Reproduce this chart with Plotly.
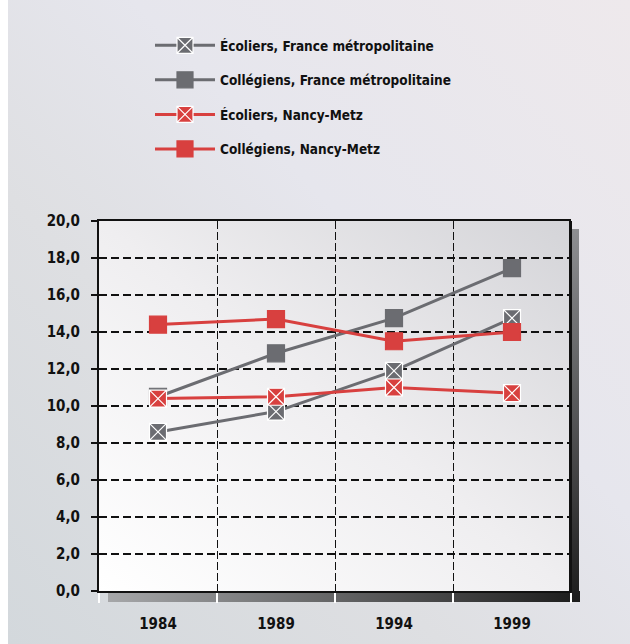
import base64
import plotly.graph_objects as go

years = ["1984", "1989", "1994", "1999"]
ecoliers_france = [8.6, 9.7, 11.9, 14.75]
collegiens_france = [10.5, 12.85, 14.75, 17.45]
ecoliers_nm = [10.4, 10.5, 11.0, 10.7]
collegiens_nm = [14.4, 14.7, 13.5, 14.0]

names = [
    "Écoliers, France métropolitaine",
    "Collégiens, France métropolitaine",
    "Écoliers, Nancy-Metz",
    "Collégiens, Nancy-Metz",
]

GRAY = "#6b6c71"
RED = "#d8403f"
FONT = "Liberation Sans Narrow, Arial Narrow, DejaVu Sans Condensed, sans-serif"

W, H = 630, 644
L, R, T, B = 99, 571, 221, 591

svg = f"""<svg xmlns='http://www.w3.org/2000/svg' width='{W}' height='{H}' viewBox='0 0 {W} {H}' preserveAspectRatio='none'>
<defs>
<linearGradient id='bg' x1='0' y1='1' x2='1' y2='0'>
<stop offset='0' stop-color='#d3d8dc'/><stop offset='0.35' stop-color='#dedfe2'/>
<stop offset='0.6' stop-color='#e6e6ed'/><stop offset='1' stop-color='#eee9ec'/></linearGradient>
<linearGradient id='pb' x1='0' y1='1' x2='1' y2='0'>
<stop offset='0' stop-color='#ffffff'/><stop offset='0.5' stop-color='#efeef0'/>
<stop offset='1' stop-color='#d4d4d8'/></linearGradient>
<linearGradient id='sb' x1='0' y1='0' x2='1' y2='0'>
<stop offset='0' stop-color='#a6a7a9'/><stop offset='1' stop-color='#1c1c1c'/></linearGradient>
<linearGradient id='sr' x1='0' y1='0' x2='0' y2='1'>
<stop offset='0' stop-color='#8e8f92'/><stop offset='1' stop-color='#1c1c1c'/></linearGradient>
</defs>
<rect x='8' y='0' width='{W-8}' height='{H}' fill='url(#bg)'/>
<rect x='{L+9}' y='{B}' width='{R-L}' height='11' fill='url(#sb)'/>
<rect x='{R}' y='{T+8}' width='8' height='{B-T+3}' fill='url(#sr)'/>
<rect x='{L}' y='{T}' width='{R-L}' height='{B-T}' fill='url(#pb)'/>
<rect x='{R-2}' y='{T}' width='3' height='{B-T+1}' fill='#111'/>
</svg>"""
src = "data:image/svg+xml;base64," + base64.b64encode(svg.encode()).decode()

pw, ph = R - L, B - T

fig = go.Figure()
series = [
    (ecoliers_france, GRAY, "square-x"),
    (collegiens_france, GRAY, "square"),
    (ecoliers_nm, RED, "square-x"),
    (collegiens_nm, RED, "square"),
]
for i, (vals, col, sym) in enumerate(series):
    fig.add_trace(go.Scatter(
        x=years, y=vals, name=names[i], mode="lines+markers",
        legendgroup=f"g{i}",
        line=dict(color=col, width=3),
        marker=dict(symbol=sym, size=17, color=col,
                    line=dict(color="white" if sym == "square-x" else col, width=1.2)),
    ))

fig.update_layout(
    width=W, height=H,
    margin=dict(l=L, r=W - R, t=T, b=H - B),
    paper_bgcolor="white",
    plot_bgcolor="rgba(0,0,0,0)",
    separators=", ",
    showlegend=True,
    legend=dict(
        x=(150 - L) / pw, y=1 + (T - 30) / ph, xanchor="left", yanchor="top",
        bgcolor="rgba(0,0,0,0)", itemwidth=60, tracegroupgap=14,
        font=dict(family=FONT, size=13.5, color="#111", weight=700),
    ),
    images=[dict(
        source=src, xref="paper", yref="paper",
        x=-L / pw, y=1 + T / ph, sizex=W / pw, sizey=H / ph,
        xanchor="left", yanchor="top", sizing="stretch", layer="below",
    )],
)

fig.update_xaxes(
    type="category", tickson="boundaries", range=[-0.5, 3.5],
    showline=True, linecolor="#111", linewidth=1.5, mirror=True,
    showgrid=True, gridcolor="#111", gridwidth=1.3, griddash="8px,3px",
    ticks="outside", ticklen=10, tickcolor="white", tickwidth=1.5,
    ticklabelstandoff=18,
    tickfont=dict(family=FONT, size=15, color="#111", weight=700),
    zeroline=False,
)
fig.update_yaxes(
    range=[0, 20], dtick=2, tickformat=".1f",
    showline=True, linecolor="#111", linewidth=2, mirror=False,
    showgrid=True, gridcolor="#111", gridwidth=1.5, griddash="8px,4px",
    ticks="outside", ticklen=6, tickcolor="#111", tickwidth=1.5,
    ticklabelstandoff=8,
    tickfont=dict(family=FONT, size=15, color="#111", weight=700),
    zeroline=False,
)

fig.write_html("out.html")
